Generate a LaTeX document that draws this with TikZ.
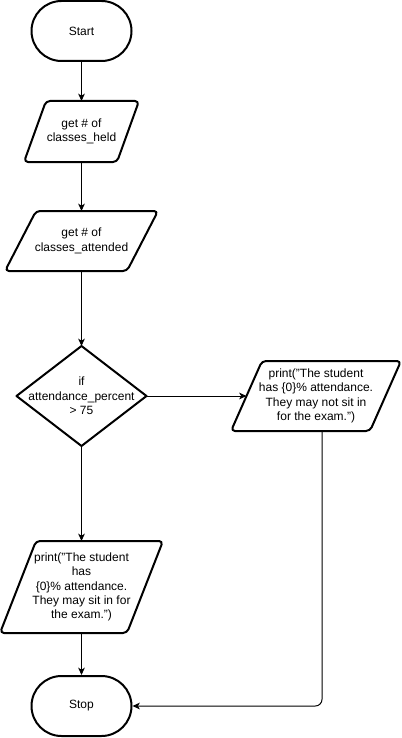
\documentclass[tikz,border=0pt]{standalone}
\usepackage{fontspec}
\setmainfont{Liberation Sans}
\usetikzlibrary{shapes.misc,arrows.meta}
\tikzset{
  shapeline/.style={draw=black,line width=1.5pt,line join=round},
  paral/.style={shapeline,rounded corners=3pt},
  term/.style={shapeline,rounded rectangle,minimum width=75pt,minimum height=45pt,inner sep=0pt,
    font=\fontsize{9}{10.8}\selectfont},
  txt/.style={align=center,inner sep=0pt,font=\fontsize{9}{10.8}\selectfont},
  conn/.style={draw=black,line width=0.75pt,-{Stealth[length=5.5pt,width=5pt,inset=1.5pt]}}
}
\begin{document}
\begin{tikzpicture}[x=0.75pt,y=-0.75pt]
\useasboundingbox (0,0) rectangle (402,738);
% terminals
\node[term] (start) at (81.5,31) {Start};
\node[term] (stop) at (81.5,706) {Stop};
% get classes_held
\draw[paral] (24,162) -- (46,101) -- (139,101) -- (117,162) -- cycle;
\coordinate (held-top) at (81.5,101);
\coordinate (held-bot) at (81.5,162);
\node[txt] (held) at (81.5,131.5) {get \# of\\classes\_held};
% get classes_attended
\draw[paral] (5,271) -- (36,211) -- (158,211) -- (127,271) -- cycle;
\coordinate (att-top) at (81.5,211);
\coordinate (att-bot) at (81.5,271);
\node[txt] (att) at (81.5,241) {get \# of\\classes\_attended};
% decision
\draw[shapeline] (81.5,346) -- (146.5,396) -- (81.5,446) -- (16.5,396) -- cycle;
\coordinate (dec-top) at (81.5,346);
\coordinate (dec-right) at (146.5,396);
\coordinate (dec-bot) at (81.5,446);
\node[txt] (dec) at (81.5,396) {if\\attendance\_percent\\> 75};
% print not allowed
\draw[paral] (231,431) -- (262,361) -- (401,361) -- (370,431) -- cycle;
\coordinate (no-left) at (246.5,396);
\coordinate (no-bot) at (322,431);
\node[txt] (no) at (316,396) {print("The student\\has \{0\}\% attendance.\\They may not sit in\\for the exam.")};
% print allowed
\draw[paral] (0,633) -- (36,541) -- (163,541) -- (127,633) -- cycle;
\coordinate (yes-top) at (81.5,541);
\coordinate (yes-bot) at (81.5,633);
\node[txt] (yes) at (81.5,587) {print("The student\\has\\\{0\}\% attendance.\\They may sit in for\\the exam.")};
% connectors
\draw[conn] (start.south) -- (held-top);
\draw[conn] (held-bot) -- (att-top);
\draw[conn] (att-bot) -- (dec-top);
\draw[conn] (dec-right) -- (no-left);
\draw[conn] (dec-bot) -- (yes-top);
\draw[conn] (yes-bot) -- (stop.north);
\draw[conn,rounded corners=5pt] (no-bot) |- (stop.east);
\end{tikzpicture}
\end{document}
